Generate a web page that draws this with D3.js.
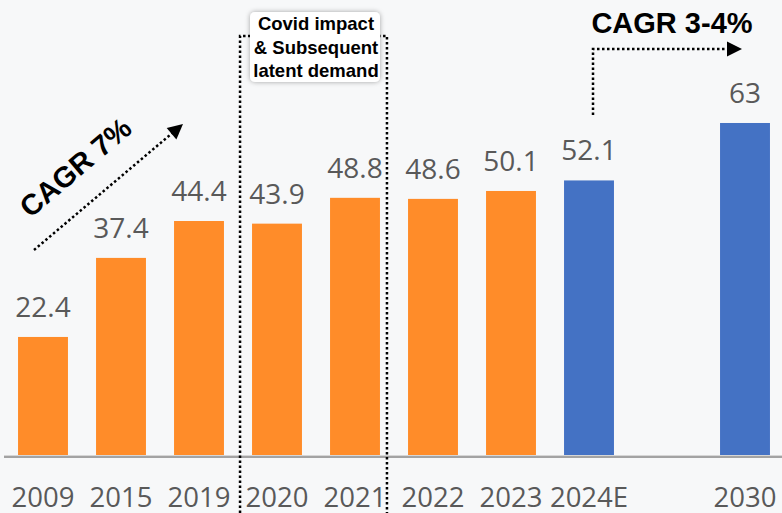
<!DOCTYPE html>
<html lang="en">
<head>
  <meta charset="utf-8">
  <title>CAGR bars</title>
  <script src="https://cdnjs.cloudflare.com/ajax/libs/d3/7.8.5/d3.min.js"></script>
  <style>
    body {
      margin: 0;
      background: #f7f8f9;
    }
    svg {
      display: block;
    }
    .val, .tick text {
      font-family: "Open Sans", sans-serif;
      fill: #595959;
    }
    .note {
      font-family: "Liberation Sans", Arial, sans-serif;
      font-weight: bold;
      fill: #000;
    }
  </style>
</head>
<body>
<svg id="chart" width="782" height="513"></svg>
<script>
  //
  // Data
  //
  var years = ['2009', '2015', '2019', '2020', '2021', '2022', '2023', '2024E', '2030']
  var values = [22.4, 37.4, 44.4, 43.9, 48.8, 48.6, 50.1, 52.1, 63]
  var valueLabels = ['22.4', '37.4', '44.4', '43.9', '48.8', '48.6', '50.1', '52.1', '63']
  // slot on the x axis (2030 skips one slot)
  var slots = [0, 1, 2, 3, 4, 5, 6, 7, 9]
  var projected = [false, false, false, false, false, false, false, true, true]

  var colorActual = '#ff8c29'
  var colorProjected = '#4472c4'

  var width = 782, height = 513
  var baseY = 455

  var svg = d3.select('#chart')

  svg.append('rect')
    .attr('width', width).attr('height', height)
    .attr('fill', '#f7f8f9')

  var defs = svg.append('defs')
  var shadow = defs.append('filter').attr('id', 'shadow')
    .attr('x', '-20%').attr('y', '-20%').attr('width', '140%').attr('height', '140%')
  shadow.append('feDropShadow')
    .attr('dx', 0).attr('dy', 0).attr('stdDeviation', 2.5)
    .attr('flood-color', '#000').attr('flood-opacity', 0.35)

  //
  // Scales
  //
  var x = d3.scaleBand()
    .domain(d3.range(10))
    .range([4, 784])
    .paddingInner(0.36)
    .paddingOuter(0.18)

  var y = d3.scaleLinear()
    .domain([0, 70])
    .range([baseY, baseY - 70 * 5.27])

  // dotted line style
  var dotted = {
    stroke: '#000',
    'stroke-width': 2.5,
    'stroke-dasharray': '2.5,2.5',
    fill: 'none'
  }
  function applyDots(sel) {
    Object.keys(dotted).forEach(function(k) { sel.attr(k, dotted[k]) })
    return sel
  }

  //
  // Bars
  //
  var bars = years.map(function(d, i) {
    return { year: d, value: values[i], label: valueLabels[i], slot: slots[i], proj: projected[i] }
  })

  svg.selectAll('rect.bar')
    .data(bars)
    .enter().append('rect')
    .attr('class', 'bar')
    .attr('x', function(d) { return x(d.slot) })
    .attr('width', x.bandwidth())
    .attr('y', function(d) { return y(d.value) })
    .attr('height', function(d) { return y(0) - y(d.value) })
    .attr('fill', function(d) { return d.proj ? colorProjected : colorActual })

  svg.selectAll('text.val')
    .data(bars)
    .enter().append('text')
    .attr('class', 'val')
    .attr('x', function(d) { return x(d.slot) + x.bandwidth() / 2 })
    .attr('y', function(d) { return y(d.value) - 20 })
    .attr('text-anchor', 'middle')
    .style('font-size', '28px')
    .text(function(d) { return d.label })

  // baseline
  svg.append('line')
    .attr('x1', 4).attr('x2', 782)
    .attr('y1', baseY + 2).attr('y2', baseY + 2)
    .attr('stroke', '#a3a3a3').attr('stroke-width', 2)
  svg.append('line')
    .attr('x1', 4).attr('x2', 782)
    .attr('y1', baseY + 0.5).attr('y2', baseY + 0.5)
    .attr('stroke', '#d6d6d6').attr('stroke-width', 1)

  // x axis
  var axis = d3.axisBottom(x)
    .tickValues(slots)
    .tickSize(0)
    .tickPadding(32)
    .tickFormat(function(s) { return years[slots.indexOf(s)] })

  var gx = svg.append('g')
    .attr('transform', 'translate(0,' + baseY + ')')
    .call(axis)
  gx.select('.domain').remove()
  gx.selectAll('.tick text')
    .attr('font-family', null)
    .style('font-size', '27.5px')

  // covid frame
  var left = x(3) - 12, right = x(4) + x.bandwidth() + 7
  applyDots(svg.append('path'))
    .attr('d', 'M' + left + ',' + height + 'V36H' + right + 'V' + height)

  var box = svg.append('g')
  box.append('rect')
    .attr('x', 250).attr('y', 12)
    .attr('width', 130).attr('height', 70)
    .attr('rx', 5)
    .attr('fill', '#fff')
    .attr('filter', 'url(#shadow)')
  var covidLines = ['Covid impact', '& Subsequent', 'latent demand']
  box.selectAll('text')
    .data(covidLines)
    .enter().append('text')
    .attr('class', 'note')
    .attr('x', 316)
    .attr('y', function(d, i) { return 30 + i * 23.5 })
    .attr('text-anchor', 'middle')
    .style('font-size', '18.5px')
    .text(function(d) { return d })

  //
  // CAGR annotations
  //
  function arrowHead(tipX, tipY, angle) {
    var len = 15, half = 7.5
    var a = angle * Math.PI / 180
    var bx = tipX - len * Math.cos(a), by = tipY - len * Math.sin(a)
    var px = -Math.sin(a) * half, py = Math.cos(a) * half
    svg.append('path')
      .attr('d', 'M' + tipX + ',' + tipY +
        'L' + (bx + px) + ',' + (by + py) +
        'L' + (bx - px) + ',' + (by - py) + 'Z')
      .attr('fill', '#000')
  }

  // CAGR 7%
  var ang = Math.atan2(124 - 250, 183 - 34) * 180 / Math.PI
  var a7 = ang * Math.PI / 180
  applyDots(svg.append('line'))
    .attr('x1', 34).attr('y1', 250)
    .attr('x2', 183 - 13 * Math.cos(a7)).attr('y2', 124 - 13 * Math.sin(a7))
  arrowHead(183, 124, ang)

  svg.append('text')
    .attr('class', 'note')
    .attr('transform', 'translate(82,175) rotate(' + ang + ')')
    .attr('text-anchor', 'middle')
    .style('font-size', '29px')
    .text('CAGR 7%')

  // CAGR 3-4%
  svg.append('text')
    .attr('class', 'note')
    .attr('x', 672)
    .attr('y', 33)
    .attr('text-anchor', 'middle')
    .style('font-size', '29px')
    .text('CAGR 3-4%')

  applyDots(svg.append('path'))
    .attr('d', 'M593,115V49H729')
  arrowHead(742, 49, 0)
</script>
</body>
</html>
